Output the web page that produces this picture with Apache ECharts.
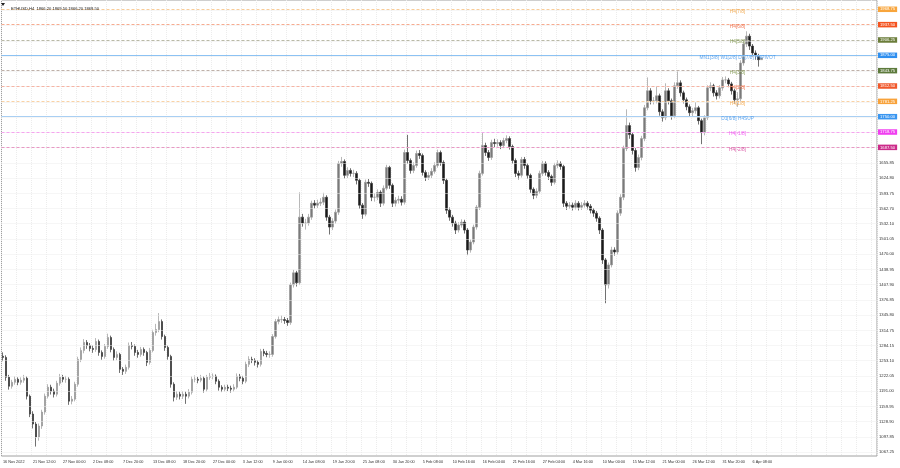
<!DOCTYPE html>
<html><head><meta charset="utf-8">
<script src="https://cdn.jsdelivr.net/npm/echarts@6/dist/echarts.min.js"></script>
<style>html,body{margin:0;padding:0;background:#fff}#c{width:900px;height:468px}</style>
</head><body><div id="c"></div>
<script>
const tickLabels = ['16 Nov 2022','21 Nov 12:00','27 Nov 00:00','2 Dec 08:00','7 Dec 20:00','13 Dec 08:00','18 Dec 20:00','27 Dec 00:00','3 Jan 12:00','9 Jan 00:00','14 Jan 08:00','19 Jan 20:00','25 Jan 08:00','30 Jan 20:00','5 Feb 08:00','10 Feb 16:00','16 Feb 04:00','21 Feb 16:00','27 Feb 04:00','4 Mar 16:00','10 Mar 00:00','15 Mar 12:00','21 Mar 00:00','26 Mar 12:00','31 Mar 20:00','6 Apr 08:00'];

const firstOpen = 1262.0;
const closes = [
1259.7,1219.2,1200.9,1209.0,1215.1,1209.0,1213.1,1217.1,1180.7,1144.2,
1123.9,1097.6,1119.9,1148.3,1180.7,1198.9,1190.8,1184.7,1207.0,1219.2,
1215.1,1215.1,1170.5,1174.6,1205.0,1255.6,1273.9,1290.1,1284.0,1277.9,
1275.9,1292.1,1269.8,1261.7,1282.0,1300.2,1275.9,1259.7,1265.8,1235.4,
1231.3,1239.4,1284.0,1282.0,1269.8,1265.8,1275.9,1269.8,1249.6,1273.9,
1310.3,1316.4,1332.6,1302.2,1279.9,1261.7,1205.0,1178.7,1184.7,1180.7,
1184.7,1180.7,1188.8,1215.1,1215.1,1213.1,1217.1,1194.9,1219.2,1221.2,
1221.2,1211.1,1198.9,1194.9,1198.9,1196.9,1194.9,1198.9,1221.2,1217.1,
1211.1,1245.5,1255.6,1253.6,1249.6,1245.5,1271.8,1267.8,1265.8,1265.8,
1302.2,1332.6,1336.7,1336.7,1334.7,1330.6,1407.6,1431.9,1411.6,1545.4,
1533.2,1533.2,1545.4,1573.7,1569.7,1573.7,1575.8,1585.9,1545.4,1525.1,
1537.3,1555.5,1654.8,1658.8,1630.5,1640.6,1634.5,1634.5,1620.3,1569.7,
1551.4,1616.3,1614.2,1585.9,1585.9,1596.0,1573.7,1604.1,1646.7,1610.2,
1573.7,1579.8,1581.8,1575.8,1677.0,1660.8,1640.6,1650.7,1675.0,1671.0,
1636.5,1626.4,1630.5,1638.6,1650.7,1677.0,1656.8,1620.3,1559.5,1545.4,
1533.2,1519.0,1529.2,1535.2,1519.0,1478.5,1494.7,1525.1,1565.6,1634.5,
1691.2,1677.0,1666.9,1697.3,1695.3,1697.3,1691.2,1701.4,1705.4,1689.2,
1660.8,1634.5,1630.5,1662.9,1650.7,1630.5,1602.1,1589.9,1598.0,1634.5,
1654.8,1636.5,1628.4,1616.3,1650.7,1654.8,1648.7,1573.7,1567.6,1569.7,
1565.6,1573.7,1565.6,1569.7,1573.7,1567.6,1559.5,1553.5,1543.3,1519.0,
1458.2,1407.6,1448.1,1478.5,1474.4,1553.5,1585.9,1685.2,1731.8,1713.5,
1681.1,1646.7,1666.9,1705.4,1768.2,1802.7,1782.4,1782.4,1792.5,1760.1,
1748.0,1802.7,1782.4,1752.0,1812.8,1818.9,1798.6,1784.4,1770.2,1758.1,
1762.1,1768.2,1741.9,1717.6,1748.0,1808.7,1812.8,1798.6,1792.5,1808.7,
1824.9,1824.9,1816.8,1802.7,1784.4,1786.5,1859.4,1897.9,1914.1,1893.8,
1879.7,1873.6,1866.2,1869.5];
const highs = [
1270,1264,1224,1214,1221,1219,1219,1224,1221,1184,
1150,1128,1125,1153,1186,1205,1204,1196,1212,1226,
1224,1222,1219,1181,1210,1261,1280,1297,1295,1289,
1284,1299,1296,1274,1287,1308,1304,1280,1272,1269,
1240,1245,1290,1291,1286,1275,1281,1280,1273,1279,
1316,1328,1350,1337,1306,1284,1265,1209,1191,1190,
1191,1190,1195,1221,1223,1220,1224,1221,1224,1228,
1227,1225,1215,1203,1204,1204,1202,1205,1227,1226,
1222,1251,1262,1261,1258,1254,1277,1277,1273,1272,
1307,1338,1343,1345,1342,1340,1412,1438,1436,1596,
1552,1542,1552,1579,1580,1581,1584,1595,1590,1550,
1543,1561,1660,1668,1663,1647,1645,1642,1639,1624,
1574,1622,1623,1618,1594,1602,1600,1610,1652,1650,
1614,1586,1589,1588,1683,1713,1665,1657,1681,1682,
1675,1641,1637,1645,1657,1683,1681,1661,1624,1565,
1550,1538,1535,1541,1540,1523,1500,1530,1570,1640,
1717,1697,1682,1703,1705,1704,1702,1707,1712,1710,
1693,1665,1640,1668,1668,1655,1634,1606,1604,1640,
1660,1659,1641,1632,1656,1661,1659,1652,1578,1576,
1575,1580,1578,1576,1580,1578,1572,1564,1558,1547,
1523,1462,1453,1485,1484,1559,1592,1691,1765,1738,
1718,1686,1673,1711,1774,1830,1808,1790,1812,1797,
1765,1818,1808,1787,1820,1843,1824,1803,1789,1775,
1768,1780,1772,1746,1753,1814,1820,1817,1804,1814,
1831,1832,1829,1821,1807,1800,1865,1904,1924,1919,
1898,1885,1878,1869.5];
const lows = [
1252,1212,1194,1196,1204,1203,1204,1208,1174,1138,
1115,1078,1090,1114,1143,1176,1184,1178,1180,1202,
1209,1208,1163,1164,1170,1200,1250,1268,1277,1272,
1269,1271,1263,1255,1257,1277,1270,1253,1254,1228,
1224,1226,1235,1276,1263,1259,1261,1263,1242,1245,
1270,1304,1311,1296,1273,1255,1198,1170,1173,1174,
1175,1165,1176,1184,1209,1207,1209,1188,1190,1214,
1215,1205,1192,1189,1190,1191,1188,1190,1195,1211,
1205,1207,1240,1248,1243,1239,1241,1262,1260,1259,
1261,1298,1327,1330,1328,1324,1326,1402,1404,1407,
1526,1520,1528,1540,1563,1564,1568,1570,1538,1510,
1519,1532,1550,1648,1624,1625,1628,1627,1612,1562,
1542,1547,1607,1578,1577,1580,1566,1569,1600,1603,
1566,1567,1573,1569,1571,1654,1634,1635,1646,1664,
1630,1619,1621,1625,1634,1646,1650,1613,1552,1538,
1526,1511,1514,1524,1512,1468,1473,1490,1520,1560,
1630,1670,1660,1662,1688,1689,1684,1686,1696,1683,
1654,1627,1622,1626,1644,1623,1595,1582,1584,1593,
1629,1630,1621,1609,1612,1645,1642,1566,1560,1562,
1559,1561,1559,1560,1565,1561,1553,1546,1536,1511,
1450,1370,1400,1443,1467,1469,1548,1580,1680,1705,
1673,1638,1641,1661,1700,1763,1775,1775,1777,1752,
1740,1743,1775,1744,1747,1807,1791,1777,1763,1750,
1751,1756,1734,1694,1712,1743,1802,1791,1785,1787,
1803,1818,1810,1795,1777,1770,1781,1854,1892,1886,
1872,1866,1852,1866.2];

const axisTicks = [1067.25,1097.85,1128.90,1159.95,1191.00,1222.05,1253.10,1284.15,1314.75,1345.80,1376.85,1407.90,1438.95,1470.00,1501.05,1532.10,1562.70,1593.75,1624.80,1655.85];
const hiddenTicks = [1686.90,1717.95,1749.00,1780.05,1811.10,1842.15,1873.20,1904.25,1935.30,1966.35];
const levelValues = [1968.75,1937.50,1906.25,1875.00,1843.75,1812.50,1781.25,1750.00,1718.75,1687.50];
const levelNames = ['H4[7/8]','H4[6/8]','H4[5/8]','MN1[3/8] W1[2/8] D1[7/8] H4PIVOT','H4[3/8]','H4[2/8]','H4[1/8]','D1[6/8] H4SUP','H4[-1/8]','H4[-2/8]'];
const lastPrice = 1869.50;
const titleText = 'ETHUSD,H4  1866.20 1869.50 1866.20 1869.50';

// styles
const tagColors  = ['#f8a53c','#f4531f','#6b7d3a','#2f8fef','#5d7a3c','#f0582b','#f8a23a','#3a96f0','#f03ef0','#cc2b8a'];
const lineColors = ['#f9cc98','#f7ab8f','#b9b9a6','#8cc2f3','#beb0a8','#f6b4a4','#f9d2a6','#a9cff3','#f6a4f0','#e898c4'];
const textColors = ['#f09a30','#f0562a','#6e8a35','#3a92ee','#6e8a35','#ee5a2a','#f29a30','#3a92ee','#ee3aee','#d03090'];
const lineTypes  = ['dashed','dashed','dashed','solid','dashed','dashed','dashed','solid','dashed','dashed'];
const FONT = 'Liberation Sans';
const N = 292;
const labelIdx = 245;

const categories = Array.from({length: N}, (_, i) => String(i));
const candleData = closes.map((c, i) => [i === 0 ? firstOpen : closes[i - 1], c, lows[i], highs[i]]);

const levelMarks = [{
  yAxis: lastPrice,
  lineStyle: {opacity: 0},
  label: {show: true, position: 'end', distance: 1, formatter: lastPrice.toFixed(2), backgroundColor: '#000', color: '#fff', fontSize: 4.2, fontFamily: FONT, padding: [1, 2, 0.5, 2]}
}].concat(levelValues.map((v, k) => ({
  yAxis: v,
  lineStyle: {color: lineColors[k], type: lineTypes[k] === 'dashed' ? [3, 2] : 'solid', width: 1},
  label: {show: true, position: 'end', distance: 1, formatter: v.toFixed(2), backgroundColor: tagColors[k], color: '#fff', fontSize: 4.2, fontFamily: FONT, padding: [1, 2, 0.5, 2]}
})));

const chart = echarts.init(document.getElementById('c'), null, {renderer: 'canvas'});
chart.setOption({
  animation: false,
  backgroundColor: '#fff',
  title: {text: titleText, left: 6, top: 2, textStyle: {fontSize: 4.1, fontWeight: 'normal', color: '#222', fontFamily: FONT}},
  graphic: [{type: 'polygon', shape: {points: [[1, 3], [5, 3], [3, 6]]}, style: {fill: '#222'}}],
  grid: {left: 1, right: 23, top: 0, bottom: 12, show: true, borderColor: '#a0a0a0', borderWidth: 1, backgroundColor: '#fff'},
  xAxis: {
    type: 'category', data: categories, boundaryGap: true,
    axisLine: {show: false}, axisTick: {show: false},
    axisLabel: {interval: 9, align: 'left', margin: 4, fontSize: 3.8, color: '#333', fontFamily: FONT,
      formatter: (v, idx) => tickLabels[idx / 10] || ''},
    splitLine: {show: true, interval: 4, lineStyle: {color: '#ececec', type: [1, 1], width: 1}}
  },
  yAxis: {
    type: 'value', position: 'right', min: 1058.8, max: 1987.7,
    splitLine: {show: false}, axisLine: {show: false}, axisTick: {show: false},
    axisLabel: {customValues: axisTicks, margin: 2, fontSize: 4.2, color: '#333', fontFamily: FONT, formatter: v => v.toFixed(2)}
  },
  series: [
    {type: 'line', data: [], silent: true, z: 1,
     markLine: {silent: true, symbol: 'none', animation: false, label: {show: false},
       lineStyle: {color: '#ececec', type: [1, 1], width: 1},
       data: axisTicks.concat(hiddenTicks).map(v => ({yAxis: v}))}},
    {type: 'candlestick', data: candleData, barWidth: 2.2, z: 3,
     itemStyle: {color: '#7a7a7a', color0: '#1a1a1a', borderColor: '#9a9a9a', borderColor0: '#333', borderWidth: 0.7}},
    {type: 'line', data: [], silent: true, z: 4,
     markLine: {silent: true, symbol: 'none', animation: false, data: levelMarks}},
    {type: 'scatter', symbolSize: 0, silent: true, z: 5,
     data: levelValues.map((v, k) => ({value: [labelIdx, v],
       label: {show: true, formatter: levelNames[k], color: textColors[k], position: 'inside', offset: [0, 2], fontSize: 4.8, fontFamily: FONT}}))}
  ]
});
</script>
</body></html>
